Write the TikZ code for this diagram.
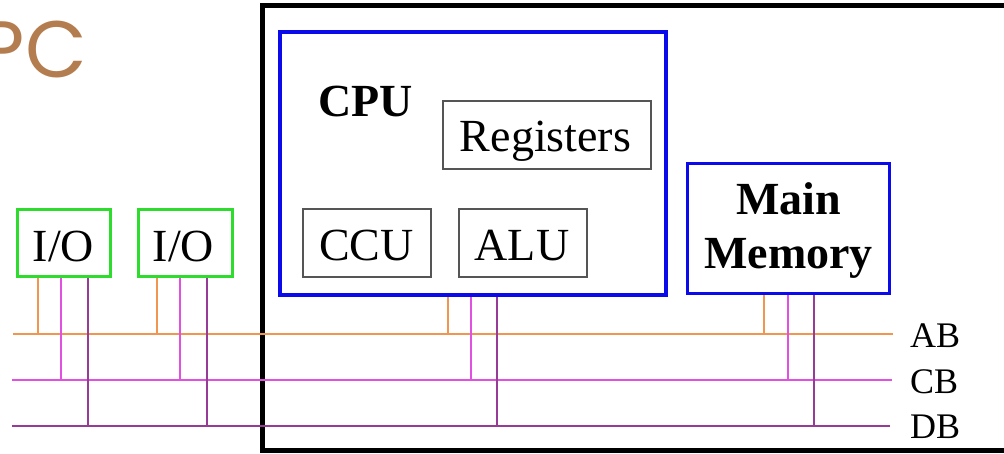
\documentclass[tikz,border=0pt]{standalone}
\usepackage{fontspec}
\setmainfont{Liberation Serif}
\newfontfamily\titlefont{Poppins}
\definecolor{titlebrown}{RGB}{180,125,80}
\definecolor{abcol}{RGB}{240,150,80}
\definecolor{cbcol}{RGB}{225,80,225}
\definecolor{dbcol}{RGB}{150,60,150}
\definecolor{iogreen}{RGB}{45,220,45}
\definecolor{unitblue}{RGB}{10,10,235}
\definecolor{unitgray}{RGB}{85,85,85}
\begin{document}
\begin{tikzpicture}[x=1pt,y=-1pt,
  every node/.style={inner sep=0pt},
  big/.style={font=\fontsize{46}{54}\selectfont},
  iobox/.style={draw=iogreen, line width=3pt},
  bluebox/.style={draw=unitblue},
  unitbox/.style={draw=unitgray, line width=1.5pt},
  buslabel/.style={anchor=base west, font=\fontsize{36}{40}\selectfont},
  abline/.style={draw=abcol, line width=1.5pt},
  cbline/.style={draw=cbcol, line width=1.6pt},
  dbline/.style={draw=dbcol, line width=1.5pt}]
\useasboundingbox (0,0) rectangle (1004,454);

% title
\node[anchor=base east, text=titlebrown, font=\titlefont\fontsize{80}{80}\selectfont] (title) at (87,78) {PC};

% computer frame (open to the right)
\draw[line width=5pt, line join=miter] (1010,5.5) -| (262.5,450.5) -- (1010,450.5);

% processor and its parts
\node[bluebox, line width=4pt, minimum width=385.5pt, minimum height=263pt] (cpu) at (472.75,164) {};
\node[anchor=base west, font=\fontsize{46}{54}\selectfont\bfseries] (cpulbl) at (318,117) {CPU};
\node[unitbox, minimum width=208pt, minimum height=68pt] (reg) at (547,135) {};
\node[anchor=base, big] (reglbl) at (545.5,152) {Registers};
\node[unitbox, minimum width=128pt, minimum height=68pt] (ccu) at (367,243) {};
\node[anchor=base, big] (cculbl) at (366.5,261) {CCU};
\node[unitbox, minimum width=128pt, minimum height=68pt] (alu) at (523,243) {};
\node[anchor=base, big] (alulbl) at (522,261) {ALU};

% main memory
\node[bluebox, line width=3pt, minimum width=202pt, minimum height=130pt] (mem) at (788.5,228.5) {};
\node[anchor=base, font=\fontsize{46}{54}\selectfont\bfseries] (memlbl1) at (788.5,215) {Main};
\node[anchor=base, font=\fontsize{46}{54}\selectfont\bfseries] (memlbl2) at (788.5,269) {Memory};

% input/output units
\node[iobox, minimum width=93pt, minimum height=66.5pt] (io1) at (64,243.25) {};
\node[anchor=base, big] (io1lbl) at (63.5,262) {I/O};
\node[iobox, minimum width=94pt, minimum height=66.5pt] (io2) at (185,243.25) {};
\node[anchor=base, big] (io2lbl) at (183.5,262) {I/O};

% buses
\coordinate (ab0) at (13,334);  \coordinate (ab1) at (893,334);
\coordinate (cb0) at (12,380);  \coordinate (cb1) at (892,380);
\coordinate (db0) at (12,426);  \coordinate (db1) at (890,426);
\draw[abline] (ab0) -- (ab1);
\draw[cbline] (cb0) -- (cb1);
\draw[dbline] (db0) -- (db1);
\node[buslabel] (AB) at (910,348) {AB};
\node[buslabel] (CB) at (910,393) {CB};
\node[buslabel] (DB) at (910,438) {DB};

% bus taps
\foreach \unit/\xa/\xc/\xd in {io1/38/61/88, io2/157/180/207, cpu/448/471/497, mem/764/788/814}{
  \draw[abline] (\xa,0 |- \unit.south) -- (\xa,0 |- ab0);
  \draw[cbline] (\xc,0 |- \unit.south) -- (\xc,0 |- cb0);
  \draw[dbline] (\xd,0 |- \unit.south) -- (\xd,0 |- db0);
}
\end{tikzpicture}
\end{document}
